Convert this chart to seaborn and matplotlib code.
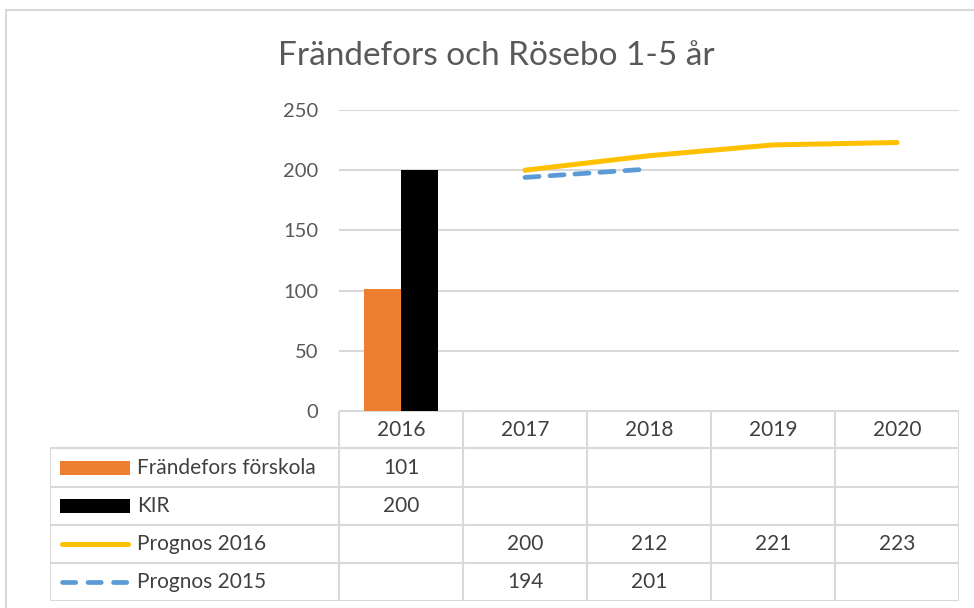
import matplotlib
matplotlib.use("Agg")
import matplotlib.pyplot as plt
import seaborn as sns
import pandas as pd
import numpy as np
from matplotlib.patches import Rectangle

# ------------------------------
# Data
# ------------------------------
years = ["2016", "2017", "2018", "2019", "2020"]
forskola = [101, None, None, None, None]
kir = [200, None, None, None, None]
prognos_2016 = [None, 200, 212, 221, 223]
prognos_2015 = [None, 194, 201, None, None]

bar_names = ["Frändefors förskola", "KIR"]
line_names = ["Prognos 2016", "Prognos 2015"]
title = "Frändefors och Rösebo 1-5 år"
yticks = [0, 50, 100, 150, 200, 250]

orange = "#ED7D31"
black = "#000000"
yellow = "#FFC000"
blue = "#5B9BD5"
grey_txt = "#595959"
grid_col = "#D9D9D9"

sns.set_style("white")
plt.rcParams["font.family"] = ["Lato", "DejaVu Sans"]

W, H = 974, 608
fig = plt.figure(figsize=(W / 100, H / 100), dpi=100)

def px_axes(x0, y0, x1, y1):
    return fig.add_axes([x0 / W, 1 - y1 / H, (x1 - x0) / W, (y1 - y0) / H])

# cadre extérieur
fig.patches.append(Rectangle((6 / W, -0.05), 1.2, 1 - 10 / H + 0.05, transform=fig.transFigure,
                             fill=False, edgecolor=grid_col, lw=1.5))

# ------------------------------
# Graphique principal
# ------------------------------
ax = px_axes(339, 110, 959, 411)

bars = pd.DataFrame({
    "year": years * 2,
    "value": forskola + kir,
    "serie": [bar_names[0]] * len(years) + [bar_names[1]] * len(years),
}).dropna()
sns.barplot(data=bars, x="year", y="value", hue="serie", order=years,
            palette=[orange, black], width=0.6, gap=0, ax=ax, legend=False,
            saturation=1, linewidth=0)

pos = np.arange(len(years))
p16 = np.array(prognos_2016, dtype=float)
p15 = np.array(prognos_2015, dtype=float)
m16 = ~np.isnan(p16)
m15 = ~np.isnan(p15)
sns.lineplot(x=pos[m16], y=p16[m16], color=yellow, lw=3.6, ax=ax,
             solid_capstyle="round")
sns.lineplot(x=pos[m15], y=p15[m15], color=blue, lw=3.4, ax=ax,
             linestyle=(0, (3.0, 2.3)), dash_capstyle="round")

ax.set_xlim(-0.5, len(years) - 0.5)
ax.set_ylim(0, 250)
ax.set_yticks(yticks)
ax.yaxis.grid(True, color=grid_col, lw=1.5)
ax.set_axisbelow(True)
ax.tick_params(axis="y", length=0, pad=15, labelsize=14.5, labelcolor=grey_txt)
ax.tick_params(axis="x", length=0, labelbottom=False)
ax.set_xlabel("")
ax.set_ylabel("")
for s in ax.spines.values():
    s.set_visible(False)

fig.text(496 / W, 1 - 56 / H, title, ha="center", va="center", fontsize=24, color=grey_txt)

# ------------------------------
# Tableau de données
# ------------------------------
tab = px_axes(50, 411, 959, 601)
legw = (339 - 50) / 124
tab.set_xlim(-0.5 - legw, len(years) - 0.5)
row_edges = [0, 37, 76, 114, 152, 190]
tab.set_ylim(190, 0)
tab.axis("off")

lkw = dict(color=grid_col, lw=1.5, solid_capstyle="butt")
left = -0.5 - legw
right = len(years) - 0.5
tab.plot([-0.5, right], [row_edges[0], row_edges[0]], **lkw)
for e in row_edges[1:]:
    tab.plot([left, right], [e, e], **lkw)
for i in range(len(years) + 1):
    tab.plot([i - 0.5, i - 0.5], [row_edges[0], row_edges[-1]], **lkw)
tab.plot([left, left], [row_edges[1], row_edges[-1]], **lkw)

def mid(r):
    return (row_edges[r] + row_edges[r + 1]) / 2

txt = dict(ha="center", va="center", fontsize=15, color="#404040")
for i, y in enumerate(years):
    tab.text(i, mid(0), y, **txt)

rows = [forskola, kir, prognos_2016, prognos_2015]
names = bar_names + line_names
for r, (name, vals) in enumerate(zip(names, rows), start=1):
    for i, v in enumerate(vals):
        if v is not None:
            tab.text(i, mid(r), str(v), **txt)
    tab.text(left + 87 / 124, mid(r), name, ha="left", va="center", fontsize=15, color="#404040")

# symboles de légende
sw0, sw1 = left + 10 / 124, left + 80 / 124
tab.add_patch(Rectangle((sw0, mid(1) - 7), sw1 - sw0, 14, color=orange, lw=0))
tab.add_patch(Rectangle((sw0, mid(2) - 7), sw1 - sw0, 14, color=black, lw=0))
tab.plot([sw0 + 0.02, sw1 - 0.02], [mid(3), mid(3)], color=yellow, lw=3.6, solid_capstyle="round")
tab.plot([sw0 + 0.02, sw1 - 0.02], [mid(4), mid(4)], color=blue, lw=3.4,
         linestyle=(0, (2.8, 2.6)), dash_capstyle="round")

plt.savefig("out.png", dpi=100)
plt.close()
